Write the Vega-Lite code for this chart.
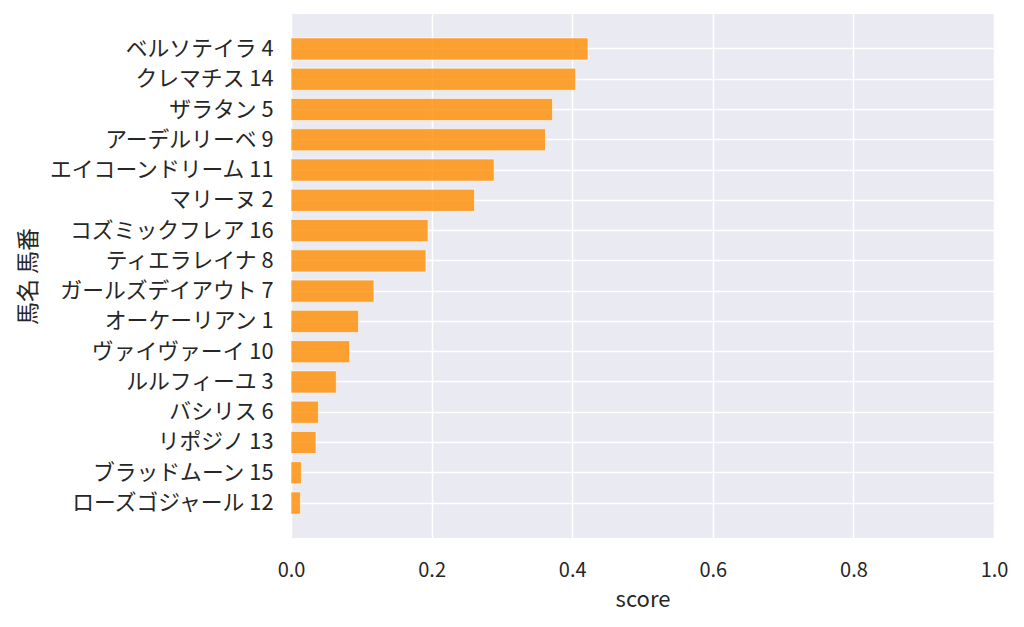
{
  "$schema": "https://vega.github.io/schema/vega-lite/v6.json",
  "width": 703,
  "height": 524,
  "autosize": "none",
  "padding": {"left": 291, "top": 14, "right": 30, "bottom": 89},
  "background": "white",
  "config": {
    "font": "Noto Sans CJK JP",
    "view": {"fill": "#EAEAF2", "stroke": null},
    "axis": {"labelFont": "Noto Sans CJK JP", "titleFont": "Noto Sans CJK JP", "labelColor": "#262626", "titleColor": "#262626", "titleFontWeight": "normal", "domain": false, "ticks": false, "gridColor": "white", "gridWidth": 1.5, "gridOpacity": 1}
  },
  "data": {"values": [
    {"name": "ベルソテイラ 4", "score": 0.4225},
    {"name": "クレマチス 14", "score": 0.405},
    {"name": "ザラタン 5", "score": 0.372},
    {"name": "アーデルリーベ 9", "score": 0.362},
    {"name": "エイコーンドリーム 11", "score": 0.289},
    {"name": "マリーヌ 2", "score": 0.261},
    {"name": "コズミックフレア 16", "score": 0.195},
    {"name": "ティエラレイナ 8", "score": 0.192},
    {"name": "ガールズデイアウト 7", "score": 0.118},
    {"name": "オーケーリアン 1", "score": 0.096},
    {"name": "ヴァイヴァーイ 10", "score": 0.0835},
    {"name": "ルルフィーユ 3", "score": 0.0645},
    {"name": "バシリス 6", "score": 0.039},
    {"name": "リポジノ 13", "score": 0.0356},
    {"name": "ブラッドムーン 15", "score": 0.0148},
    {"name": "ローズゴジャール 12", "score": 0.0134}
  ]},
  "mark": {"type": "bar", "color": "#ff8c00", "fillOpacity": 0.8, "stroke": "white", "strokeWidth": 1, "strokeOpacity": 0.6},
  "encoding": {
    "y": {
      "field": "name", "type": "nominal", "sort": null,
      "scale": {"paddingInner": 0.27, "paddingOuter": 0.79},
      "axis": {"title": "馬名 馬番", "labelFontSize": 21.8, "labelLimit": 400, "titleFontSize": 23, "labelPadding": 18, "titleX": -263, "titleY": 262, "titleAngle": -90, "titleAlign": "center", "titleBaseline": "middle", "grid": true, "bandPosition": 0.5}
    },
    "x": {
      "field": "score", "type": "quantitative",
      "scale": {"domain": [0, 1], "nice": false, "zero": true},
      "axis": {"title": "score", "format": ".1f", "values": [0, 0.2, 0.4, 0.6, 0.8, 1.0], "labelFontSize": 20, "titleFontSize": 22, "labelPadding": 22, "titlePadding": 9, "labelFlush": false, "grid": true}
    }
  }
}
